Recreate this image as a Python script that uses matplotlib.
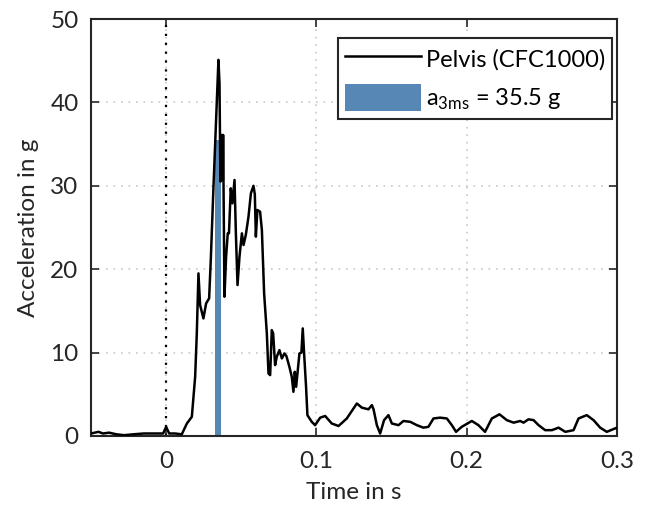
import matplotlib
matplotlib.use("Agg")
import matplotlib.pyplot as plt
import numpy as np

plt.rcParams['font.family'] = ['Lato', 'DejaVu Sans']

# Pelvis acceleration trace (time in s, acceleration in g)
time_s = [-0.05, -0.045, -0.042, -0.038, -0.033, -0.028, -0.022, -0.015, -0.008, -0.002, 0.0, 0.002,
          0.006, 0.0104, 0.0138, 0.0171, 0.0193, 0.0204, 0.0215, 0.0226, 0.0248, 0.0266, 0.0286,
          0.0297, 0.0315, 0.0333, 0.0348, 0.0355, 0.0361, 0.0370, 0.0377, 0.0379, 0.0388, 0.0399,
          0.0410, 0.0418, 0.0430, 0.0441, 0.0455, 0.0464, 0.0475, 0.0488, 0.0504, 0.0515, 0.0530,
          0.0548, 0.0564, 0.0581, 0.0590, 0.0597, 0.0607, 0.0625, 0.0637, 0.0652, 0.0670, 0.0681,
          0.0692, 0.0703, 0.0712, 0.0725, 0.0736, 0.0754, 0.0770, 0.0787, 0.0800, 0.0820, 0.0836,
          0.0847, 0.0856, 0.0865, 0.0875, 0.0887, 0.0900, 0.0909, 0.0918, 0.0931, 0.0940, 0.0969,
          0.0991, 0.1025, 0.1058, 0.1102, 0.1147, 0.1202, 0.1269, 0.1302, 0.1346, 0.1369, 0.1380,
          0.1402, 0.1424, 0.1450, 0.1479, 0.1502, 0.1546, 0.1579, 0.1624, 0.1668, 0.1712, 0.1745,
          0.1779, 0.1823, 0.1868, 0.1901, 0.1929, 0.1967, 0.2034, 0.2078, 0.2122, 0.2167, 0.2218,
          0.2267, 0.2312, 0.2356, 0.2378, 0.2411, 0.2445, 0.2478, 0.2522, 0.2567, 0.2611, 0.2656,
          0.2711, 0.2744, 0.2799, 0.2844, 0.2888, 0.2932, 0.2987, 0.3]
accel_g = [0.3, 0.5, 0.3, 0.4, 0.2, 0.1, 0.2, 0.3, 0.3, 0.3, 1.1, 0.3,
           0.3, 0.2, 1.5, 2.3, 7.1, 12.3, 19.5, 15.7, 14.1, 15.9, 16.5,
           21.1, 29.9, 38.3, 45.1, 42.3, 30.5, 36.1, 30.7, 36.1, 16.7, 21.5,
           24.3, 24.3, 29.7, 27.9, 30.7, 24.3, 18.1, 21.5, 24.3, 22.9, 24.1,
           26.3, 29.1, 30.0, 29.0, 23.9, 27.1, 26.9, 24.7, 17.1, 12.3, 7.5,
           7.3, 12.7, 12.3, 8.5, 9.5, 10.3, 9.3, 9.9, 9.6, 8.3, 7.1,
           5.3, 7.7, 5.9, 7.7, 9.9, 10.0, 12.9, 9.9, 5.9, 2.5, 1.7,
           1.3, 2.2, 2.4, 1.5, 1.2, 2.1, 3.9, 3.4, 3.2, 3.7, 3.2,
           1.3, 0.3, 1.9, 2.5, 1.5, 1.3, 1.8, 1.7, 1.3, 1.0, 1.1,
           2.1, 2.2, 2.1, 1.3, 0.5, 1.1, 1.8, 1.3, 0.5, 2.1, 2.6,
           1.9, 1.6, 1.8, 1.6, 2.0, 1.9, 1.3, 0.7, 0.7, 1.0, 0.5,
           0.7, 2.1, 2.5, 1.9, 1.0, 0.5, 0.9, 1.0]

a3ms_time = 0.0344
a3ms_value = 35.5
a3ms_width = 0.0044

xticks = [0, 0.1, 0.2, 0.3]
xticklabels = ['0', '0.1', '0.2', '0.3']
yticks = [0, 10, 20, 30, 40, 50]

FS = 17.5

fig = plt.figure(figsize=(6.48, 5.08), dpi=100)
ax = fig.add_axes([91/648, 1 - 436/508, (617-91)/648, (436-19)/508])

line, = ax.plot(time_s, accel_g, color='black', lw=1.8, zorder=3, label='Pelvis (CFC1000)')
bars = ax.bar([a3ms_time], [a3ms_value], width=a3ms_width, color='#5788b5', zorder=2,
              label=r'a$_{\mathregular{3ms}}$ = 35.5 g')
ax.axvline(0, color='black', ls=(0, (1, 3)), lw=1.6, zorder=1)

ax.set_xlim(-0.05, 0.3)
ax.set_ylim(0, 50)
ax.set_xticks(xticks)
ax.set_xticklabels(xticklabels)
ax.set_yticks(yticks)
ax.grid(True, color='#c8c8c8', ls=(0, (1, 3.5)), lw=1.2)
ax.set_axisbelow(True)
ax.tick_params(direction='in', top=True, right=True, labelsize=FS, length=6, width=1.2,
               colors='#262626')
ax.tick_params(axis='x', pad=11)
ax.tick_params(axis='y', pad=9)
for s in ax.spines.values():
    s.set_color('#262626')
    s.set_linewidth(1.5)
ax.set_xlabel('Time in s', fontsize=FS, color='#262626', labelpad=7)
ax.set_ylabel('Acceleration in g', fontsize=FS, color='#262626', labelpad=8)

leg = ax.legend([line, bars], ['Pelvis (CFC1000)', r'a$_{\mathregular{3ms}}$ = 35.5 g'],
                loc='upper right', fontsize=17, frameon=True, fancybox=False,
                edgecolor='#262626', bbox_to_anchor=(0.9905, 0.955), handlelength=3.2,
                handleheight=1.4, borderpad=0.3, labelspacing=0.5, handletextpad=0.2,
                borderaxespad=0.0)
leg.get_frame().set_linewidth(1.5)
leg.get_frame().set_alpha(1)

fig.savefig('out.png', dpi=100)
